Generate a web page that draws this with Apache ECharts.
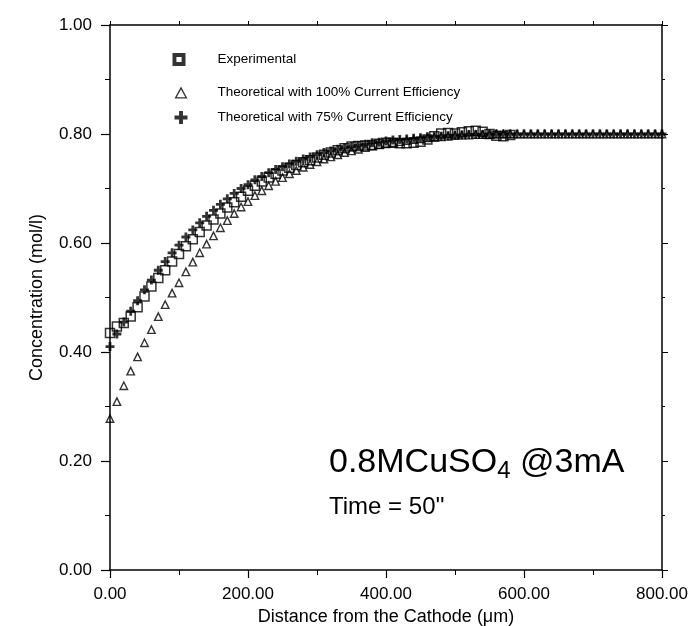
<!DOCTYPE html>
<html>
<head>
<meta charset="utf-8">
<script src="https://cdn.jsdelivr.net/npm/echarts@6/dist/echarts.min.js"></script>
<style>html,body{margin:0;padding:0;background:#fff;}#c{width:689px;height:626px;}</style>
</head>
<body>
<div id="c"></div>
<script>
// Distances (µm) for the theoretical curves
const distTheory = [0,10,20,30,40,50,60,70,80,90,100,110,120,130,140,150,160,170,180,190,200,210,220,230,240,250,260,270,280,290,300,310,320,330,340,350,360,370,380,390,400,410,420,430,440,450,460,470,480,490,500,510,520,530,540,550,560,570,580,590,600,610,620,630,640,650,660,670,680,690,700,710,720,730,740,750,760,770,780,790,800];
// Theoretical with 100% Current Efficiency (mol/l)
const theory100 = [0.278,0.309,0.338,0.365,0.391,0.417,0.441,0.465,0.487,0.508,
  0.527,0.547,0.565,0.582,0.598,0.613,0.628,0.641,0.654,0.666,
  0.676,0.687,0.696,0.705,0.713,0.720,0.727,0.733,0.739,0.744,
  0.749,0.754,0.758,0.762,0.766,0.769,0.772,0.775,0.778,0.780,
  0.782,0.784,0.786,0.788,0.790,0.791,0.793,0.794,0.795,0.796,
  0.797,0.798,0.798,0.799,0.799,0.799,0.800,0.800,0.800,0.800,
  0.800,0.800,0.800,0.800,0.800,0.800,0.800,0.800,0.800,0.800,
  0.800,0.800,0.800,0.800,0.800,0.800,0.800,0.800,0.800,0.800,0.800];
// Theoretical with 75% Current Efficiency (mol/l)
const theory75 = [0.410,0.433,0.455,0.475,0.494,0.514,0.532,0.550,0.566,0.582,
  0.596,0.611,0.624,0.637,0.649,0.660,0.671,0.681,0.691,0.700,
  0.707,0.716,0.722,0.729,0.735,0.740,0.745,0.750,0.754,0.758,
  0.762,0.766,0.769,0.772,0.775,0.777,0.779,0.781,0.784,0.785,
  0.787,0.789,0.790,0.791,0.792,0.793,0.795,0.795,0.796,0.797,
  0.798,0.798,0.799,0.799,0.799,0.800,0.800,0.800,0.800,0.800,
  0.800,0.800,0.800,0.800,0.800,0.800,0.800,0.800,0.800,0.800,
  0.800,0.800,0.800,0.800,0.800,0.800,0.800,0.800,0.800,0.800,0.800];
// Experimental
const distExp = [0,10,20,30,40,50,60,70,80,90,100,110,120,130,140,150,160,170,180,190,200,210,220,230,240,250,260,270,280,290,300,310,320,330,340,350,360,370,380,390,400,410,420,430,440,450,460,470,480,490,500,510,520,530,540,550,560,570,580];
const experimental = [0.435,0.447,0.453,0.465,0.482,0.502,0.520,0.536,0.550,0.566,
  0.580,0.594,0.607,0.620,0.632,0.643,0.654,0.665,0.675,0.685,
  0.696,0.705,0.713,0.720,0.727,0.733,0.738,0.743,0.748,0.752,
  0.757,0.762,0.766,0.770,0.774,0.777,0.778,0.779,0.780,0.782,
  0.784,0.784,0.783,0.783,0.784,0.786,0.790,0.796,0.801,0.802,
  0.801,0.803,0.805,0.806,0.804,0.800,0.797,0.796,0.798];

const seriesNames = ['Experimental','Theoretical with 100% Current Efficiency','Theoretical with 75% Current Efficiency'];
const xTitle = 'Distance from the Cathode (\u03bcm)';
const yTitle = 'Concentration (mol/l)';

const FONT = 'Liberation Sans, Arial, Helvetica, sans-serif';
const zip = (xs, ys) => xs.map((x, i) => [x, ys[i]]);
const plusPath = 'path://M3.1,0H5.9V3.1H9V5.9H5.9V9H3.1V5.9H0V3.1H3.1Z';

const chart = echarts.init(document.getElementById('c'), null, {renderer: 'canvas'});

function legendAt(name, icon, left, top, pad) {
  return {
    data: [{name: name, icon: icon, itemStyle: {color: '#000', borderWidth: 0}}],
    left: left, top: top, padding: 0,
    itemWidth: 13, itemHeight: 13,
    textStyle: {fontFamily: FONT, fontSize: 13.5, color: '#000', padding: [0, 0, 0, pad]},
    selectedMode: false
  };
}

const axisLineStyle = {color: '#000', width: 1.5};
chart.setOption({
  animation: false,
  backgroundColor: '#fff',
  grid: {left: 110, right: 27, top: 25, bottom: 56, containLabel: false, outerBoundsMode: 'none'},
  legend: [
    legendAt(seriesNames[0], 'path://M0,0H10V10H0Z M3,3V7H7V3Z', 172.5, 52.5, 27),
    legendAt(seriesNames[1], 'path://M6,0L12,11L0,11Z M6,2.8L2,9.8L10,9.8Z', 174.5, 85.5, 25),
    legendAt(seriesNames[2], 'path://M4.2,0H7.8V4.2H12V7.8H7.8V12H4.2V7.8H0V4.2H4.2Z', 174.5, 110.5, 25)
  ],
  xAxis: [
    {
      type: 'value', min: 0, max: 800, interval: 200, position: 'bottom',
      name: xTitle, nameLocation: 'middle', nameGap: 30,
      nameTextStyle: {fontFamily: FONT, fontSize: 18, color: '#000'},
      axisLine: {show: true, onZero: false, lineStyle: axisLineStyle},
      axisTick: {show: true, length: 8, lineStyle: {color: '#000', width: 1.2}},
      minorTick: {show: true, splitNumber: 2, length: 5, lineStyle: {color: '#000', width: 1}},
      axisLabel: {formatter: v => v.toFixed(2), fontFamily: FONT, fontSize: 17, color: '#000', margin: 16},
      splitLine: {show: false}, minorSplitLine: {show: false}
    },
    {
      type: 'value', min: 0, max: 800, interval: 100, position: 'top',
      axisLine: {show: true, onZero: false, lineStyle: axisLineStyle},
      axisTick: {show: true, length: 4, lineStyle: {color: '#000', width: 1}},
      axisLabel: {show: false}, splitLine: {show: false}
    }
  ],
  yAxis: [
    {
      type: 'value', min: 0, max: 1, interval: 0.2, position: 'left',
      name: yTitle, nameLocation: 'middle', nameGap: 64,
      nameTextStyle: {fontFamily: FONT, fontSize: 18, color: '#000'},
      axisLine: {show: true, onZero: false, lineStyle: axisLineStyle},
      axisTick: {show: true, length: 9, lineStyle: {color: '#000', width: 1.2}},
      minorTick: {show: true, splitNumber: 2, length: 5, lineStyle: {color: '#000', width: 1}},
      axisLabel: {formatter: v => v.toFixed(2), fontFamily: FONT, fontSize: 17, color: '#000', margin: 18},
      splitLine: {show: false}, minorSplitLine: {show: false}
    },
    {
      type: 'value', min: 0, max: 1, interval: 0.2, position: 'right',
      axisLine: {show: true, onZero: false, lineStyle: axisLineStyle},
      axisTick: {show: true, length: 6, lineStyle: {color: '#000', width: 1}},
      minorTick: {show: true, splitNumber: 2, length: 3, lineStyle: {color: '#000', width: 1}},
      axisLabel: {show: false}, splitLine: {show: false}
    }
  ],
  series: [
    {
      name: seriesNames[1], type: 'scatter', xAxisIndex: 0, yAxisIndex: 0,
      symbol: 'triangle', symbolSize: 7.5,
      itemStyle: {color: 'rgba(0,0,0,0)', borderColor: '#000', borderWidth: 1.4},
      data: zip(distTheory, theory100)
    },
    {
      name: seriesNames[0], type: 'scatter', xAxisIndex: 0, yAxisIndex: 0,
      symbol: 'rect', symbolSize: 9,
      itemStyle: {color: 'rgba(0,0,0,0)', borderColor: '#000', borderWidth: 1.5},
      data: zip(distExp, experimental)
    },
    {
      name: seriesNames[2], type: 'scatter', xAxisIndex: 0, yAxisIndex: 0,
      symbol: plusPath, symbolSize: 9,
      itemStyle: {color: '#000'},
      data: zip(distTheory, theory75)
    }
  ],
  graphic: [
    {
      type: 'text', x: 329, y: 443,
      style: {
        text: '{a|0.8MCuSO}{s|4}{a| @3mA}',
        fill: '#000',
        rich: {
          a: {fontFamily: FONT, fontSize: 34, lineHeight: 40, verticalAlign: 'middle', fill: '#000'},
          s: {fontFamily: FONT, fontSize: 24, lineHeight: 20, verticalAlign: 'bottom', fill: '#000'}
        }
      }
    },
    {
      type: 'text', x: 329, y: 495,
      style: {text: 'Time = 50\'\'', fill: '#000', font: '24px ' + FONT}
    }
  ]
});
</script>
</body>
</html>
